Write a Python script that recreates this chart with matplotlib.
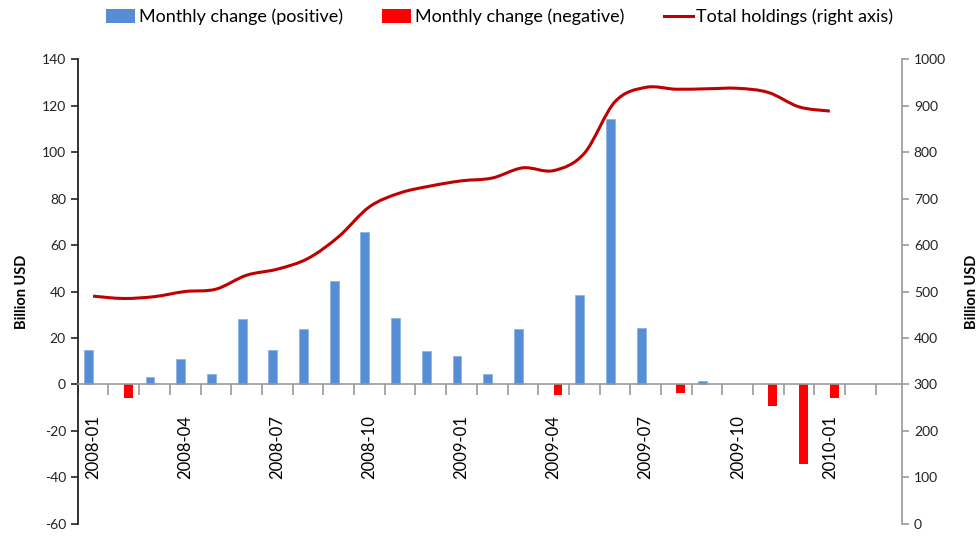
import matplotlib
matplotlib.use("Agg")
import matplotlib.pyplot as plt
import numpy as np
from matplotlib.path import Path
from matplotlib.patches import PathPatch, Patch
from matplotlib.lines import Line2D

plt.rcParams["font.family"] = ["Lato", "DejaVu Sans"]
plt.rcParams["axes.unicode_minus"] = False

months = [
    "2008-01", "2008-02", "2008-03", "2008-04", "2008-05", "2008-06",
    "2008-07", "2008-08", "2008-09", "2008-10", "2008-11", "2008-12",
    "2009-01", "2009-02", "2009-03", "2009-04", "2009-05", "2009-06",
    "2009-07", "2009-08", "2009-09", "2009-10", "2009-11", "2009-12",
    "2010-01", "2010-02",
]
nan = np.nan
change_pos = [15.0, nan, 3.4, 11.0, 4.7, 28.0, 14.8, 23.7, 44.4, 65.8, 28.6, 14.2,
              12.2, 4.7, 23.7, nan, 38.3, 114.0, 24.2, nan, 1.5, nan, nan, nan,
              nan, nan]
change_neg = [nan, -6.0, nan, nan, nan, nan, nan, nan, nan, nan, nan, nan,
              nan, nan, nan, -4.7, nan, nan, nan, -3.6, nan, nan, -9.3, -34.4,
              -6.0, nan]
holdings = [490, 485, 489, 500, 505, 535, 548, 571, 618, 682, 712, 727,
            738, 744, 766, 760, 797, 908, 939, 935, 936, 937, 928, 897, 888]

blue = "#558ED5"
red = "#FF0000"
dark_red = "#C00000"

fig = plt.figure(figsize=(9.8, 5.36), dpi=100)
ax = fig.add_axes([0.0793, 0.0224, 0.8411, 0.8675])
x = np.arange(len(months))
w = 0.29

ax.bar(x - w / 2, change_pos, width=w, color=blue, edgecolor="#8DB3E2", linewidth=0.6, zorder=2)
ax.bar(x + w / 2, change_neg, width=w, color=red, zorder=2)

ax.set_xlim(-0.5, 26.35)
ax.set_ylim(-60, 140)
ax.set_yticks(range(-60, 141, 20))
ax.tick_params(axis="y", direction="out", length=5, width=1.2, colors="#222222", labelsize=10)
ax.spines["left"].set_color("#222222")
ax.spines["left"].set_linewidth(1.3)
ax.spines["top"].set_visible(False)
ax.spines["right"].set_visible(False)
ax.spines["bottom"].set_position(("data", 0))
ax.spines["bottom"].set_color("#999999")
ax.spines["bottom"].set_linewidth(1.2)

ax.set_xticks(np.arange(-0.5, len(months), 1.0))
ax.set_xticklabels([])
ax.tick_params(axis="x", which="major", direction="out", length=8, width=1.2, color="#999999")
ax.set_xticks(x[::3], minor=True)
ax.set_xticklabels(months[::3], minor=True, rotation=90, fontsize=12)
ax.tick_params(axis="x", which="minor", length=0, pad=22)
ax.set_ylabel("Billion USD", fontsize=10.5, fontweight="bold", labelpad=9)

ax2 = ax.twinx()
ax2.set_ylim(0, 1000)
ax2.set_yticks(range(0, 1001, 100))
for s in ["top", "left", "bottom"]:
    ax2.spines[s].set_visible(False)
ax2.spines["right"].set_color("#999999")
ax2.spines["right"].set_linewidth(1.2)
ax2.tick_params(axis="y", direction="out", length=5, width=1.2, color="#999999",
                labelcolor="#222222", labelsize=10)
ax2.set_ylabel("Billion USD", fontsize=10.5, fontweight="bold", labelpad=14)

# Excel-style smoothed line built from Bezier segments
pts = np.column_stack([np.arange(len(holdings)), holdings]).astype(float)
verts = [pts[0]]
codes = [Path.MOVETO]
n = len(pts)
for i in range(n - 1):
    p0 = pts[max(i - 1, 0)]
    p1 = pts[i]
    p2 = pts[i + 1]
    p3 = pts[min(i + 2, n - 1)]
    c1 = p1 + (p2 - p0) / 6.0
    c2 = p2 - (p3 - p1) / 6.0
    verts += [c1, c2, p2]
    codes += [Path.CURVE4] * 3
ax2.add_patch(PathPatch(Path(verts, codes), fill=False, edgecolor=dark_red, linewidth=2.2, zorder=3))

handles = [
    Patch(facecolor=blue, label="Monthly change (positive)"),
    Patch(facecolor=red, label="Monthly change (negative)"),
    Line2D([0], [0], color=dark_red, lw=2.2, label="Total holdings (right axis)"),
]
fig.legend(handles=handles, loc="center", bbox_to_anchor=(0.51, 0.968), ncol=3,
           frameon=False, fontsize=13, handlelength=1.6, handleheight=0.8,
           handletextpad=0.2, columnspacing=2.2)

fig.savefig("out.png", dpi=100)
